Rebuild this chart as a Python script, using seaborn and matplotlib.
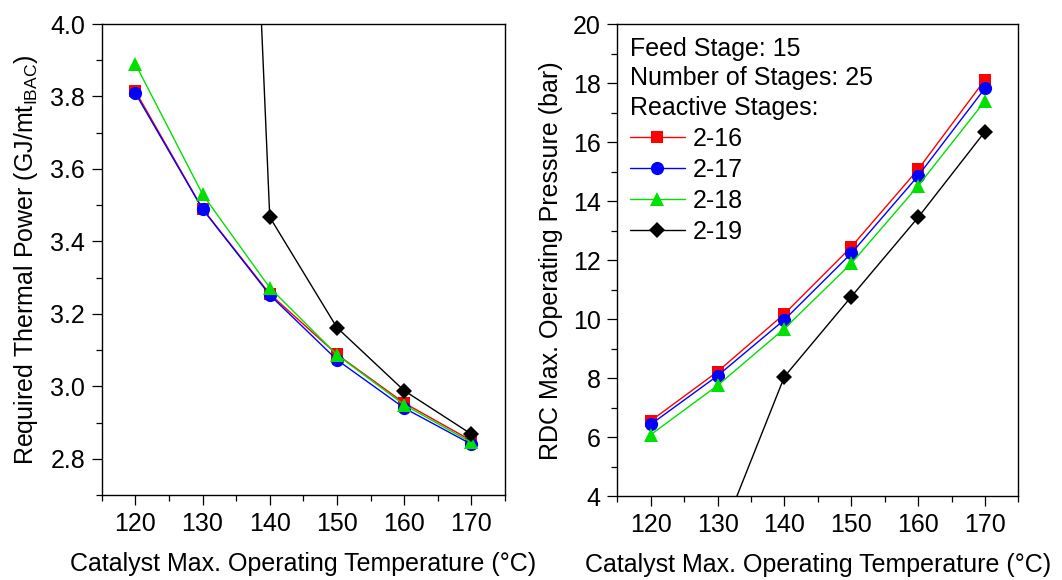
import numpy as np
import pandas as pd
import matplotlib
matplotlib.use("Agg")
import matplotlib.pyplot as plt
import seaborn as sns
from matplotlib.ticker import MultipleLocator, FormatStrFormatter

# ---- data ----
temps = [120, 130, 140, 150, 160, 170]
series = ["2-16", "2-17", "2-18", "2-19"]

thermal_216 = [3.815, 3.490, 3.255, 3.088, 2.954, 2.850]
thermal_217 = [3.809, 3.489, 3.252, 3.073, 2.940, 2.840]
thermal_218 = [3.890, 3.530, 3.272, 3.087, 2.949, 2.845]
thermal_219 = [np.nan, 7.8, 3.467, 3.162, 2.988, 2.868]

pressure_216 = [6.55, 8.22, 10.18, 12.45, 15.08, 18.12]
pressure_217 = [6.43, 8.08, 9.98, 12.23, 14.86, 17.83]
pressure_218 = [6.08, 7.75, 9.68, 11.89, 14.52, 17.40]
pressure_219 = [np.nan, 2.35, 8.05, 10.76, 13.45, 16.36]

colors = {"2-16": "#ff0000", "2-17": "#0000ff", "2-18": "#00e000", "2-19": "#000000"}
markers = {"2-16": "s", "2-17": "o", "2-18": "^", "2-19": "D"}
msizes = {"2-16": 9, "2-17": 9.5, "2-18": 10.5, "2-19": 8.5}

thermal = {"2-16": thermal_216, "2-17": thermal_217, "2-18": thermal_218, "2-19": thermal_219}
pressure = {"2-16": pressure_216, "2-17": pressure_217, "2-18": pressure_218, "2-19": pressure_219}

rows = []
for s in series:
    for t, q, p in zip(temps, thermal[s], pressure[s]):
        rows.append({"T": t, "Q": q, "P": p, "Stages": s})
df = pd.DataFrame(rows)

sns.set_theme(style="ticks", rc={"text.color": "black", "axes.labelcolor": "black",
                                 "xtick.color": "black", "ytick.color": "black",
                                 "axes.edgecolor": "black"})
plt.rcParams["font.family"] = ["Liberation Sans", "DejaVu Sans"]
plt.rcParams["mathtext.default"] = "regular"
FS = 18

fig = plt.figure(figsize=(10.62, 5.80), dpi=100)
ax1 = fig.add_axes([0.0958, 0.1466, 0.3797, 0.812])
ax2 = fig.add_axes([0.5813, 0.1448, 0.3776, 0.8132])

def draw(ax, ycol):
    for s in series:
        sub = df[df["Stages"] == s]
        sns.lineplot(data=sub, x="T", y=ycol, ax=ax, color=colors[s], marker=markers[s],
                     markersize=msizes[s], markeredgewidth=0,
                     linewidth=1.0, label=s, estimator=None, sort=False)
    ax.set_xlim(115, 175)
    ax.xaxis.set_major_locator(MultipleLocator(10))
    ax.xaxis.set_minor_locator(MultipleLocator(5))
    for sp in ax.spines.values():
        sp.set_visible(True)
        sp.set_linewidth(1.0)
        sp.set_color("black")
    ax.tick_params(which="major", length=7, width=0.9, labelsize=FS, pad=5,
                   color="black", labelcolor="black")
    ax.tick_params(which="minor", length=4, width=0.9, color="black")
    ax.tick_params(top=False, right=False, which="both")
    ax.set_xlabel("Catalyst Max. Operating Temperature (°C)", fontsize=FS, labelpad=12)

draw(ax1, "Q")
ax1.set_ylim(2.7, 4.0)
ax1.yaxis.set_major_locator(MultipleLocator(0.2))
ax1.yaxis.set_minor_locator(MultipleLocator(0.1))
ax1.yaxis.set_major_formatter(FormatStrFormatter("%.1f"))
ax1.set_ylabel(r"Required Thermal Power (GJ/mt$_{IBAC}$)", fontsize=FS, labelpad=7)
ax1.get_legend().remove()

draw(ax2, "P")
ax2.set_ylim(4, 20)
ax2.yaxis.set_major_locator(MultipleLocator(2))
ax2.yaxis.set_minor_locator(MultipleLocator(1))
ax2.set_ylabel("RDC Max. Operating Pressure (bar)", fontsize=FS, labelpad=7)
h, l = ax2.get_legend_handles_labels()
leg = ax2.legend(h, l, title="Feed Stage: 15\nNumber of Stages: 25\nReactive Stages:",
                 loc="upper left", frameon=False, fontsize=FS, title_fontsize=FS,
                 alignment="left", handlelength=2.2, handletextpad=0.3,
                 labelspacing=0.28, borderaxespad=0.3, borderpad=0.2)
leg.get_title().set_linespacing(1.28)
leg._legend_box.sep = 5.5

fig.savefig("out.png", dpi=100)
